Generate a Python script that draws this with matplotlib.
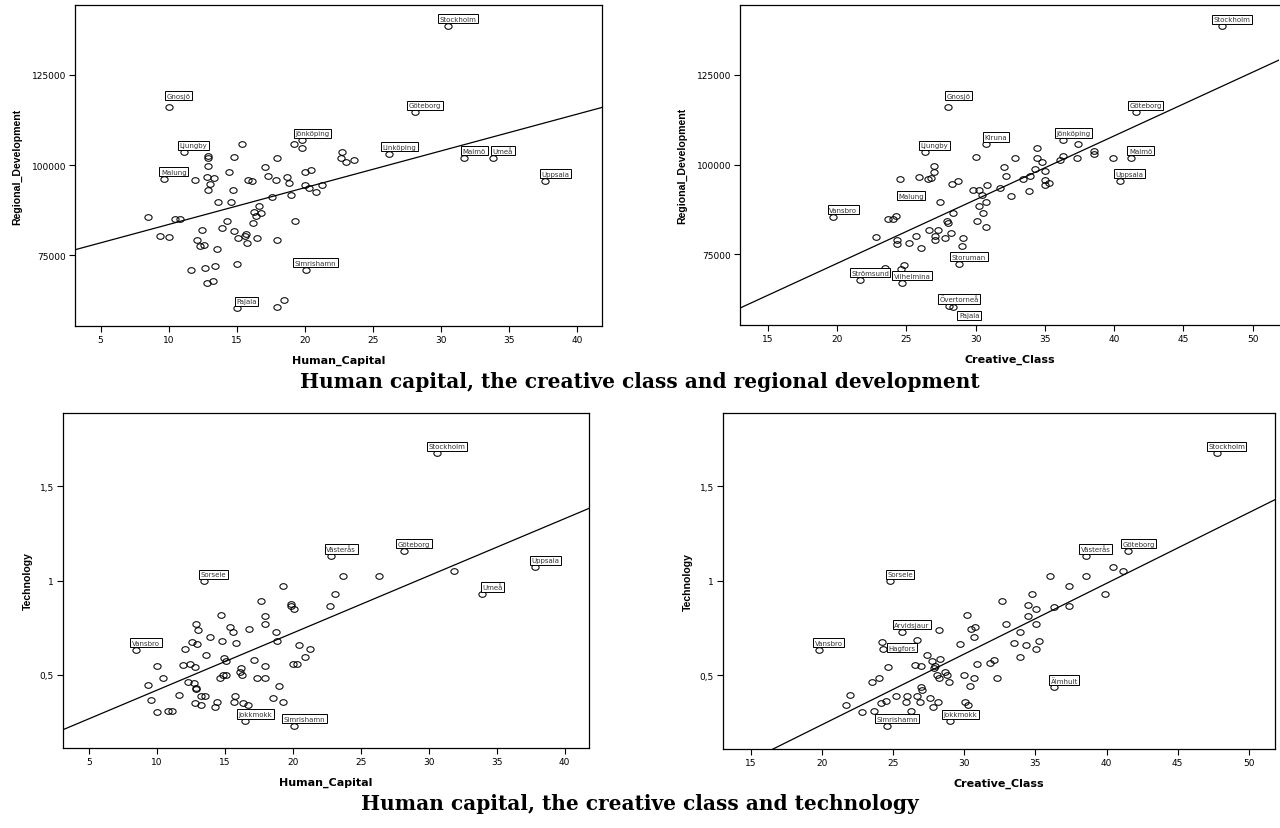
"""Human capital / creative class vs regional development and technology.

Four SPSS-style scatter panels with labelled municipalities and fit lines.
"""

import matplotlib

matplotlib.use("Agg")
import matplotlib.pyplot as plt
import numpy as np

W, H = 1280, 829

# ---- top left: Human_Capital vs Regional_Development ----
tl_names = ["Stockholm", "Gnosjö", "Göteborg", "Ljungby", "Jönköping", "Linköping",
            "Malung", "Malmö", "Umeå", "Uppsala", "Simrishamn", "Pajala"]
tl_lab_x = [30.48, 10.0, 28.08, 11.1, 19.81, 26.2, 9.63, 31.7, 33.79, 37.65, 20.05, 14.98]
tl_lab_y = [138670, 116220, 114660, 103560, 106890, 103190, 96260, 102080, 102080,
            95700, 71040, 60360]
tl_x = [15.35, 19.22, 19.8, 12.9, 12.9, 12.9, 14.8, 17.93, 17.1, 14.45, 17.31, 18.71,
        20.0, 20.47, 11.93, 12.79, 13.33, 13.06, 12.9, 15.8, 16.14, 17.9, 18.81, 20.0,
        20.28, 20.8, 21.23, 14.68, 17.61, 18.95, 13.62, 14.6, 16.65, 16.24, 16.39, 16.78,
        16.16, 14.3, 19.25, 8.5, 10.49, 10.86, 13.89, 12.44, 14.8, 15.65, 15.57, 15.1,
        15.77, 16.51, 17.93, 9.34, 10.02, 12.08, 12.3, 12.56, 13.52, 11.61, 12.69, 13.37,
        15.04, 12.81, 13.23, 17.98, 18.47, 22.72, 22.63, 23.02, 23.6]
tl_y = [105870, 105870, 104760, 102640, 101900, 99870, 102270, 101900, 99590, 98200,
        97000, 96820, 98200, 98760, 95990, 96730, 96360, 94790, 93120, 95990, 95620,
        95800, 94970, 94600, 93580, 92660, 94510, 93220, 91180, 91640, 89800, 89800,
        88590, 86930, 86010, 86840, 84070, 84620, 84620, 85640, 85180, 84990, 82680,
        81940, 81850, 81020, 80280, 79720, 78520, 79720, 79170, 80370, 80090, 79260,
        77510, 77970, 76770, 70950, 71590, 72150, 72700, 67340, 67990, 60720, 62490,
        103740, 101910, 100970, 101440]
tl_fit = (73340, 1020.4)

# ---- top right: Creative_Class vs Regional_Development ----
tr_names = ["Stockholm", "Gnosjö", "Göteborg", "Kiruna", "Ljungby", "Jönköping", "Malmö",
            "Malung", "Uppsala", "Vansbro", "Storuman", "Strömsund", "Vilhelmina",
            "Övertorneå", "Pajala"]
tr_lab_x = [47.8, 28.03, 41.55, 30.75, 26.32, 36.32, 41.19, 24.54, 40.4, 19.74, 28.8,
            21.66, 24.69, 28.1, 28.39]
tr_lab_y = [138540, 116080, 114520, 105730, 103430, 106840, 101850, 96030, 95570, 85500,
            72380, 68000, 67200, 60700, 60360]
tr_x = [30.02, 26.99, 26.99, 25.94, 26.54, 26.78, 28.27, 28.7, 29.78, 30.22, 30.46, 30.84,
        27.43, 30.26, 30.75, 30.51, 28.34, 23.65, 24.06, 24.25, 30.12, 27.93, 27.98, 26.66,
        27.26, 30.75, 22.84, 24.35, 24.3, 25.7, 27.07, 27.07, 25.22, 27.76, 28.25, 29.06,
        28.99, 26.03, 23.5, 24.59, 24.83, 37.4, 39.92, 38.52, 38.52, 37.32, 36.32, 36.08,
        34.44, 34.44, 34.76, 32.88, 32.04, 32.23, 34.27, 35.04, 33.91, 33.45, 35.02, 35.02,
        35.31, 33.86, 32.59, 31.8]
tr_y = [102220, 99730, 98070, 96680, 96030, 96400, 94650, 95390, 92980, 92980, 91410,
        94370, 89570, 88460, 89570, 86610, 86610, 84850, 84950, 85780, 84390, 84390, 83840,
        81710, 81710, 82630, 79950, 78940, 77830, 80040, 80140, 79030, 78290, 79670, 80880,
        79580, 77370, 76720, 71300, 70900, 72000, 105730, 101850, 103700, 102960, 101850,
        102410, 101390, 104630, 101850, 100840, 101760, 99450, 96960, 98710, 98160, 96770,
        95940, 95760, 94460, 94830, 92520, 91230, 93450]
tr_fit = (37031, 1773.7)

# ---- bottom left: Human_Capital vs Technology ----
bl_names = ["Stockholm", "Västerås", "Göteborg", "Sorsele", "Uppsala", "Umeå", "Vansbro",
            "Jokkmokk", "Simrishamn"]
bl_lab_x = [30.6, 22.83, 28.2, 13.45, 37.85, 33.96, 8.47, 16.51, 20.13]
bl_lab_y = [1.675, 1.132, 1.159, 0.996, 1.071, 0.929, 0.634, 0.256, 0.231]
bl_x = [23.69, 23.1, 22.71, 19.28, 17.68, 19.87, 19.91, 20.06, 17.95, 17.95, 14.69, 15.38,
        15.62, 16.78, 18.76, 18.86, 12.9, 13.03, 13.91, 12.56, 12.93, 14.82, 15.85, 12.1,
        13.61, 14.98, 15.06, 17.12, 20.5, 21.29, 20.9, 20.01, 20.33, 10.01, 11.95, 12.46,
        12.83, 16.21, 17.95, 10.48, 9.35, 12.32, 12.76, 12.88, 12.9, 14.62, 14.84, 15.09,
        16.14, 16.24, 17.34, 17.98, 19.0, 9.6, 11.6, 13.27, 13.52, 12.78, 13.25, 14.45,
        14.3, 15.77, 15.67, 16.38, 16.7, 18.52, 19.28, 10.01, 10.8, 11.09, 26.34, 31.88]
bl_y = [1.026, 0.927, 0.866, 0.973, 0.894, 0.874, 0.864, 0.848, 0.814, 0.768, 0.820, 0.753,
        0.730, 0.746, 0.726, 0.682, 0.768, 0.740, 0.701, 0.675, 0.663, 0.682, 0.671, 0.638,
        0.608, 0.588, 0.576, 0.581, 0.659, 0.636, 0.594, 0.557, 0.560, 0.546, 0.555, 0.557,
        0.541, 0.539, 0.546, 0.484, 0.447, 0.461, 0.456, 0.431, 0.426, 0.482, 0.500, 0.502,
        0.518, 0.502, 0.482, 0.486, 0.442, 0.368, 0.396, 0.390, 0.390, 0.353, 0.341, 0.357,
        0.329, 0.387, 0.357, 0.350, 0.343, 0.378, 0.355, 0.306, 0.309, 0.307, 1.026, 1.049]
bl_fit = (0.116, 0.0303)

# ---- bottom right: Creative_Class vs Technology ----
br_names = ["Stockholm", "Västerås", "Göteborg", "Sorsele", "Arvidsjaur", "Vansbro",
            "Hagfors", "Älmhult", "Simrishamn", "Jokkmokk"]
br_lab_x = [47.73, 38.55, 41.54, 24.77, 25.63, 19.77, 24.28, 36.33, 24.56, 29.02]
br_lab_y = [1.675, 1.132, 1.159, 0.996, 0.730, 0.634, 0.638, 0.435, 0.231, 0.256]
br_x = [24.25, 26.66, 28.2, 27.36, 28.32, 27.73, 27.97, 27.9, 24.67, 26.52, 26.99, 28.2,
        28.08, 28.64, 28.79, 28.95, 29.72, 30.16, 30.44, 30.72, 30.7, 30.86, 31.8, 29.98,
        30.68, 30.42, 23.48, 24.02, 21.96, 21.66, 22.83, 23.64, 24.18, 24.53, 25.19, 26.0,
        25.91, 26.66, 27.06, 26.99, 26.92, 26.28, 27.57, 27.8, 28.18, 30.07, 30.23, 40.42,
        41.17, 36.05, 38.55, 37.38, 39.88, 34.74, 32.64, 34.46, 35.05, 36.33, 37.33, 34.46,
        32.94, 35.05, 33.95, 33.48, 34.32, 35.28, 35.05, 33.92, 32.08, 32.27]
br_y = [0.677, 0.684, 0.740, 0.608, 0.587, 0.572, 0.546, 0.539, 0.541, 0.553, 0.549, 0.482,
        0.502, 0.514, 0.500, 0.461, 0.663, 0.820, 0.744, 0.753, 0.701, 0.557, 0.563, 0.502,
        0.482, 0.443, 0.461, 0.482, 0.394, 0.341, 0.306, 0.311, 0.352, 0.364, 0.387, 0.387,
        0.355, 0.390, 0.422, 0.438, 0.355, 0.309, 0.378, 0.329, 0.359, 0.355, 0.343, 1.071,
        1.049, 1.026, 1.026, 0.973, 0.929, 0.929, 0.894, 0.871, 0.850, 0.860, 0.867, 0.814,
        0.770, 0.770, 0.726, 0.671, 0.657, 0.682, 0.636, 0.594, 0.581, 0.482]
br_fit = (-0.512, 0.03744)

rd_ticks = [75000, 100000, 125000]
tech_ticks = [0.5, 1, 1.5]
tech_ticklabels = ["0,5", "1", "1,5"]

titles = ["Human capital, the creative class and regional development",
          "Human capital, the creative class and technology"]

# label offsets in pixels (default: up and to the right of the point)
LABEL_OFFSET = {"Gnosjö": (10, 11), ("tr", "Malung"): (11, -17),
                ("tr", "Pajala"): (16, -8), ("br", "Hagfors"): (19, 1)}

theta = np.linspace(0, 2 * np.pi, 41)
ELLIPSE = np.column_stack([np.cos(theta), 0.78 * np.sin(theta)])


def axes_px(left, top, right, bottom):
    return [left / W, 1 - bottom / H, (right - left) / W, (bottom - top) / H]


def panel(fig, rect, key, xs, ys, names, lx, ly, fit, xlim, ylim, xticks, yticks,
          yticklabels, xlabel, ylabel, ylabel_off):
    ax = fig.add_axes(axes_px(*rect))
    ax.plot(xs + lx, ys + ly, linestyle="none", marker=ELLIPSE, markersize=5.2,
            markerfacecolor="none", markeredgecolor="black", markeredgewidth=0.75)
    xx = np.array(xlim)
    ax.plot(xx, fit[0] + fit[1] * xx, color="black", lw=0.9)
    for name, x, y in zip(names, lx, ly):
        off = LABEL_OFFSET.get((key, name), LABEL_OFFSET.get(name, (10, 7)))
        ax.annotate(name, (x, y), xytext=off, textcoords="offset pixels",
                    ha="center", va="center", fontsize=5, color="#333333",
                    bbox=dict(boxstyle="square,pad=0.22", fc="white", ec="black", lw=0.7))
    ax.set_xlim(xlim)
    ax.set_ylim(ylim)
    ax.set_xticks(xticks)
    ax.set_yticks(yticks)
    ax.set_yticklabels(yticklabels)
    ax.tick_params(direction="out", length=4, width=0.8, labelsize=6.5, pad=2.5)
    for s in ax.spines.values():
        s.set_linewidth(0.9)
    w_px = (rect[2] - rect[0])
    h_px = (rect[3] - rect[1])
    ax.set_xlabel(xlabel, fontsize=8, fontweight="bold", va="center")
    ax.xaxis.set_label_coords(0.5, -34 / h_px)
    ax.set_ylabel(ylabel, fontsize=7.6, fontweight="bold", va="center",
                  family="Liberation Sans")
    ax.yaxis.set_label_coords(-ylabel_off / w_px, 0.5)
    return ax


def main():
    fig = plt.figure(figsize=(W / 100, H / 100), dpi=100)
    rd_lbl = [str(t) for t in rd_ticks]

    panel(fig, (75, 6, 602, 327), "tl", tl_x, tl_y, tl_names, tl_lab_x, tl_lab_y, tl_fit,
          (3.12, 41.8), (55380, 144400), range(5, 41, 5), rd_ticks, rd_lbl,
          "Human_Capital", "Regional_Development", 58)
    ax = panel(fig, (740, 6, 1279, 326), "tr", tr_x, tr_y, tr_names, tr_lab_x, tr_lab_y,
               tr_fit, (13.0, 51.9), (55380, 144400), range(15, 51, 5), rd_ticks, rd_lbl,
               "Creative_Class", "Regional_Development", 58)
    ax.spines["right"].set_visible(False)
    panel(fig, (63, 414, 589, 749), "bl", bl_x, bl_y, bl_names, bl_lab_x, bl_lab_y, bl_fit,
          (3.1, 41.8), (0.113, 1.888), range(5, 41, 5), tech_ticks, tech_ticklabels,
          "Human_Capital", "Technology", 35)
    panel(fig, (723, 414, 1275, 750), "br", br_x, br_y, br_names, br_lab_x, br_lab_y,
          br_fit, (13.04, 51.84), (0.108, 1.888), range(15, 51, 5), tech_ticks,
          tech_ticklabels, "Creative_Class", "Technology", 35)

    for title, y in zip(titles, [381.6, 803.6]):
        fig.text(0.5, 1 - y / H, title, ha="center", va="center", fontsize=14.5,
                 fontweight="bold", family="DejaVu Serif")

    fig.savefig("out.png", dpi=100)


if __name__ == "__main__":
    main()
